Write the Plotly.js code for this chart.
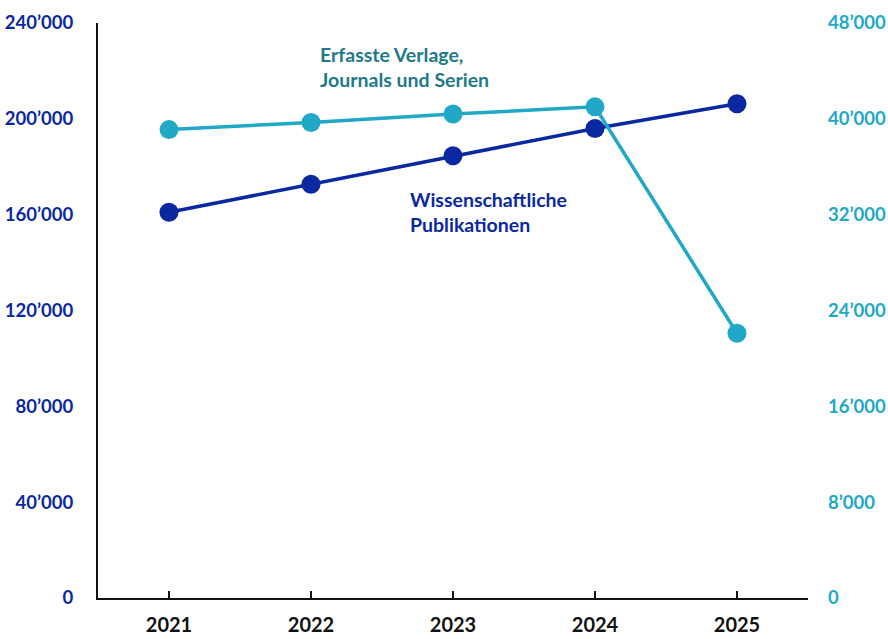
<!DOCTYPE html>
<html>
<head>
<meta charset="utf-8">
<script src="https://cdn.plot.ly/plotly-3.0.1.min.js"></script>
<style>html,body{margin:0;padding:0;background:#fff;}#chart{width:888px;height:639px;}</style>
</head>
<body>
<div id="chart"></div>
<script>
const years = ['2021', '2022', '2023', '2024', '2025'];
const publikationen = [161000, 172700, 184600, 196000, 206300];
const verlage = [39100, 39700, 40400, 41000, 22100];
const leftTickVals = [0, 40000, 80000, 120000, 160000, 200000, 240000];
const leftTickText = ['0', '40’000', '80’000', '120’000', '160’000', '200’000', '240’000'];
const rightTickVals = [0, 8000, 16000, 24000, 32000, 40000, 48000];
const rightTickText = ['0', '8’000', '16’000', '24’000', '32’000', '40’000', '48’000'];

const darkBlue = '#0a28a0';
const lightBlue = '#20a8c6';
const teal = '#1d7a88';
const fontFam = 'Lato, "Open Sans", sans-serif';

const traces = [
  {
    x: years, y: publikationen, type: 'scatter', mode: 'lines+markers',
    line: {color: darkBlue, width: 3.5}, marker: {color: darkBlue, size: 19},
    yaxis: 'y', hoverinfo: 'skip', cliponaxis: false
  },
  {
    x: years, y: verlage, type: 'scatter', mode: 'lines+markers',
    line: {color: lightBlue, width: 3.5}, marker: {color: lightBlue, size: 19},
    yaxis: 'y2', hoverinfo: 'skip', cliponaxis: false
  }
];

const layout = {
  width: 888, height: 639,
  margin: {l: 98, r: 80, t: 23, b: 41, pad: 0},
  paper_bgcolor: '#fff', plot_bgcolor: '#fff',
  showlegend: false,
  font: {family: fontFam},
  xaxis: {
    type: 'category', range: [-0.5, 4.5],
    showline: true, linecolor: '#111', linewidth: 2,
    ticks: 'inside', ticklen: 7, tickwidth: 1.5, tickcolor: '#111',
    showgrid: false, zeroline: false,
    tickfont: {family: fontFam, size: 20, color: '#111', weight: 'bold'},
    ticklabelstandoff: 8
  },
  yaxis: {
    range: [0, 240000], tickvals: leftTickVals, ticktext: leftTickText,
    showline: true, linecolor: '#111', linewidth: 2,
    ticks: '', showgrid: false, zeroline: false,
    tickfont: {family: fontFam, size: 18.5, color: darkBlue, weight: 'bold'},
    ticklabelstandoff: 19
  },
  yaxis2: {
    range: [0, 48000], tickvals: rightTickVals, ticktext: rightTickText,
    overlaying: 'y', side: 'right',
    showline: false, ticks: '', showgrid: false, zeroline: false,
    tickfont: {family: fontFam, size: 18.5, color: lightBlue, weight: 'bold'},
    ticklabelstandoff: 19
  },
  annotations: [
    {
      xref: 'paper', yref: 'paper', x: (318 - 98) / 710, y: (598 - 67) / 575,
      xanchor: 'left', yanchor: 'middle', align: 'left', showarrow: false,
      text: 'Erfasste Verlage,<br>Journals und Serien',
      font: {family: fontFam, size: 19.5, color: teal, weight: 'bold'}
    },
    {
      xref: 'paper', yref: 'paper', x: (408 - 98) / 710, y: (598 - 212) / 575,
      xanchor: 'left', yanchor: 'middle', align: 'left', showarrow: false,
      text: 'Wissenschaftliche<br>Publikationen',
      font: {family: fontFam, size: 19.5, color: darkBlue, weight: 'bold'}
    }
  ]
};

Plotly.newPlot('chart', traces, layout, {staticPlot: true, displayModeBar: false});
</script>
</body>
</html>
